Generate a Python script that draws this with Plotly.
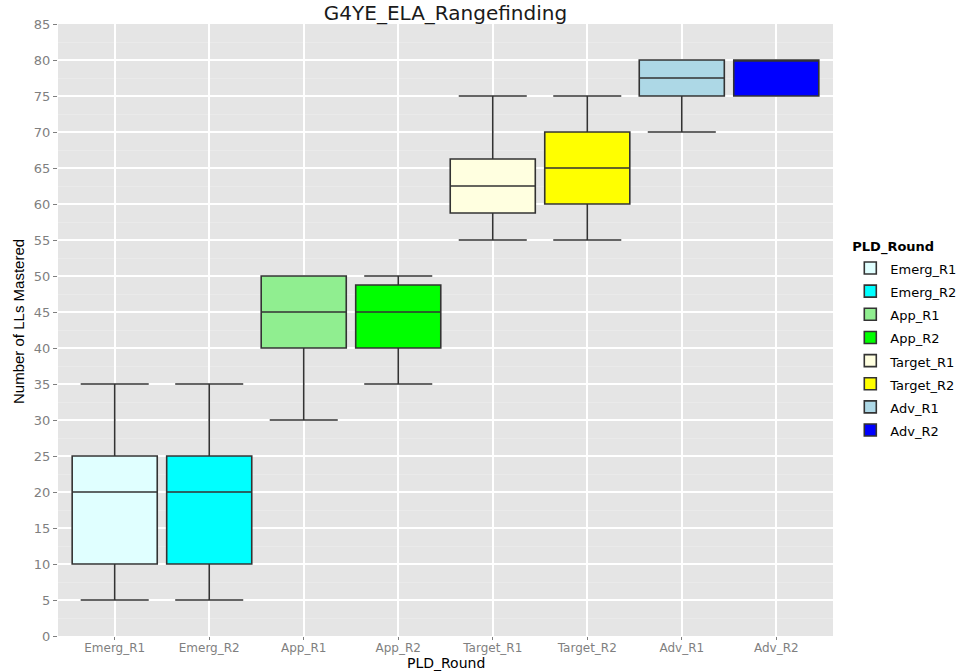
import plotly.graph_objects as go

categories = ["Emerg_R1", "Emerg_R2", "App_R1", "App_R2", "Target_R1", "Target_R2", "Adv_R1", "Adv_R2"]
lower_whisker = [5, 5, 30, 35, 55, 55, 70, 75]
q1_values = [10, 10, 40, 40, 58.75, 60, 75, 75]
median_values = [20, 20, 45, 45, 62.5, 65, 77.5, 80]
q3_values = [25, 25, 50, 48.75, 66.25, 70, 80, 80]
upper_whisker = [35, 35, 50, 50, 75, 75, 80, 80]
fill_colors = ["#E0FFFF", "#00FFFF", "#90EE90", "#00FF00", "#FFFFE0", "#FFFF00", "#ADD8E6", "#0000FF"]
y_ticks = list(range(0, 90, 5))

L, R, T, B = 58, 139, 24, 36
W, H = 972, 672
pw, ph = W - L - R, H - T - B

fig = go.Figure()
for i, cat in enumerate(categories):
    fig.add_trace(go.Box(
        x=[cat],
        q1=[q1_values[i]],
        median=[median_values[i]],
        q3=[q3_values[i]],
        lowerfence=[lower_whisker[i]],
        upperfence=[upper_whisker[i]],
        name='<span style="font-size:13px">' + cat + '</span>',
        fillcolor=fill_colors[i],
        line=dict(color="#333333", width=1.6),
        width=0.9,
        whiskerwidth=0.8,
        boxpoints=False,
        hoverinfo="skip",
    ))

fig.update_layout(
    width=W,
    height=H,
    margin=dict(l=L, r=R, t=T, b=B, autoexpand=False),
    paper_bgcolor="white",
    plot_bgcolor="#E5E5E5",
    boxmode="overlay",
    title=dict(
        text="G4YE_ELA_Rangefinding",
        x=(L + L + pw) / 2 / W,
        xanchor="center",
        y=1 - 13 / H,
        yanchor="middle",
        font=dict(family="DejaVu Sans", size=20, color="#1a1a1a"),
    ),
    xaxis=dict(
        type="category",
        categoryorder="array",
        categoryarray=categories,
        range=[-0.6, 7.6],
        showgrid=True,
        gridcolor="white",
        gridwidth=1.6,
        ticks="outside",
        ticklen=3,
        tickcolor="#7F7F7F",
        ticklabelstandoff=-2,
        tickfont=dict(family="DejaVu Sans", size=12, color="#7F7F7F"),
        zeroline=False,
        showline=False,
        automargin=False,
    ),
    yaxis=dict(
        range=[0, 85],
        tickvals=y_ticks,
        showgrid=True,
        gridcolor="white",
        gridwidth=1.6,
        minor=dict(dtick=2.5, showgrid=True, gridcolor="#EAEAEA", gridwidth=0.6),
        ticks="outside",
        ticklen=4,
        tickcolor="#7F7F7F",
        tickfont=dict(family="DejaVu Sans", size=13, color="#7F7F7F"),
        zeroline=False,
        showline=False,
        automargin=False,
    ),
    legend=dict(
        title=dict(text="<b>PLD_Round</b>", font=dict(family="DejaVu Sans", size=13, color="black")),
        font=dict(family="DejaVu Sans", size=15.5, color="black"),
        x=1.012 + 8 / pw,
        xanchor="left",
        y=0.482,
        yanchor="middle",
        bgcolor="white",
        tracegroupgap=0,
    ),
    showlegend=True,
    annotations=[
        dict(
            text="PLD_Round",
            xref="paper", yref="paper",
            x=0.5, y=-(663 - (T + ph)) / ph,
            xanchor="center", yanchor="middle",
            showarrow=False,
            font=dict(family="DejaVu Sans", size=14, color="black"),
        ),
        dict(
            text="Number of LLs Mastered",
            xref="paper", yref="paper",
            x=(18 - L) / pw, y=(T + ph - 322) / ph,
            xanchor="center", yanchor="middle",
            textangle=-90,
            showarrow=False,
            font=dict(family="Liberation Sans", size=15, color="black"),
        ),
    ],
)

fig.write_html("out.html", config={"displayModeBar": False},
               post_script="document.body.style.margin='0';")
